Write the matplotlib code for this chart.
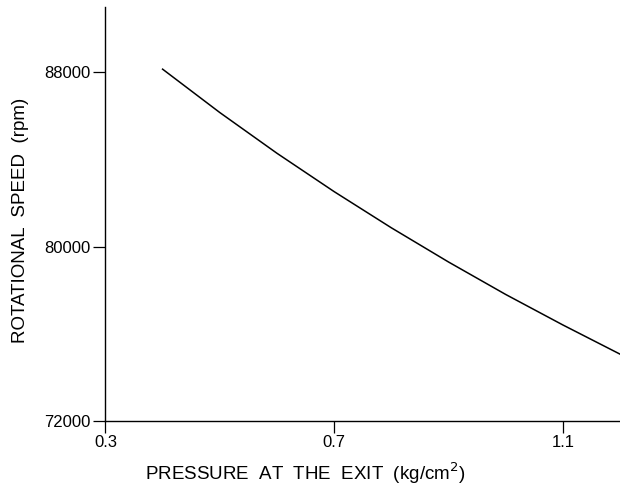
import numpy as np
import matplotlib
matplotlib.use("Agg")
import matplotlib.pyplot as plt

# values
pressure = [0.4, 0.5, 0.6, 0.7, 0.8, 0.9, 1.0, 1.1, 1.2]
speed = [88150, 86160, 84290, 82530, 80870, 79300, 77810, 76410, 75070]

x_ticks = [0.3, 0.7, 1.1]
x_tick_labels = ["0.3", "0.7", "1.1"]
y_ticks = [72000, 80000, 88000]
y_tick_labels = ["72000", "80000", "88000"]

plt.rcParams['font.family'] = ['Liberation Sans', 'DejaVu Sans']

W, H = 620, 487
fig = plt.figure(figsize=(W / 100, H / 100), dpi=100)
ax = fig.add_axes([0.170, 0.1355, 0.830, 0.850])

ax.plot(pressure, speed, color="black", linewidth=1.1)

ax.set_xlim(0.3, 1.2)
ax.set_ylim(72000, 91000)
ax.set_xticks(x_ticks)
ax.set_xticklabels(x_tick_labels)
ax.set_yticks(y_ticks)
ax.set_yticklabels(y_tick_labels)
ax.tick_params(axis="x", direction="out", length=8.5, width=0.9, labelsize=12, pad=1.5)
ax.tick_params(axis="y", direction="out", length=9, width=0.9, labelsize=12, pad=2)

for side in ["top", "right"]:
    ax.spines[side].set_visible(False)
for side in ["left", "bottom"]:
    ax.spines[side].set_linewidth(1.0)

# axis titles placed in figure pixels to match the reference
fig.text(305 / W, 1 - 473 / H, "PRESSURE  AT  THE  EXIT  (kg/cm$^2$)",
         fontsize=13.5, ha="center", va="center")
fig.text(21 / W, 1 - 220 / H, "ROTATIONAL  SPEED  (rpm)",
         fontsize=13.5, ha="center", va="center", rotation=90)

fig.savefig("out.png", dpi=100)
